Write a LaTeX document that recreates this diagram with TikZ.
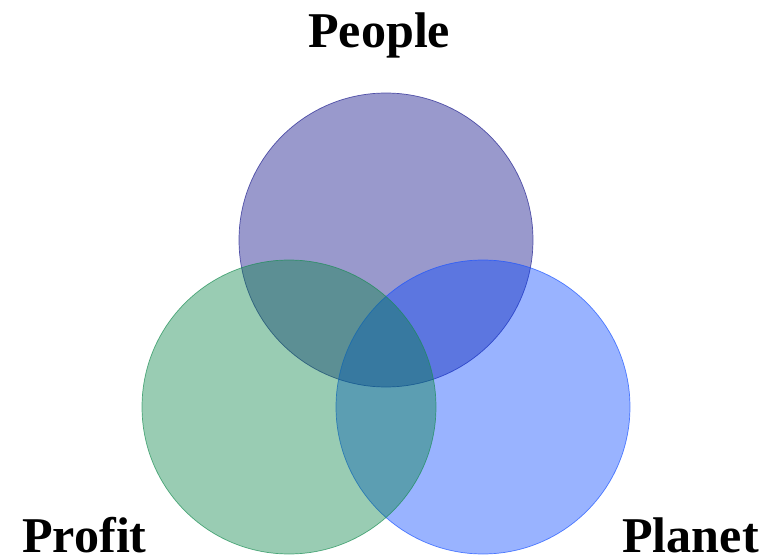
\documentclass[tikz,border=0pt]{standalone}
\usepackage{fontspec}
\setmainfont{Liberation Serif}
\usetikzlibrary{calc}

\definecolor{peoplecol}{RGB}{0,0,128}
\definecolor{profitcol}{RGB}{0,128,64}
\definecolor{planetcol}{RGB}{0,64,255}

\begin{document}
\begin{tikzpicture}
    \path[use as bounding box] (0,0) rectangle (15.4,11.1);
    \tikzset{label/.style={anchor=base west,inner sep=0pt,font=\fontsize{28.5}{34}\selectfont\bfseries}}
    % Circles.
    \filldraw[fill=peoplecol,fill opacity=0.4,draw=peoplecol!80,draw opacity=0.8] (7.72,6.3) circle(2.94);
    \filldraw[fill=planetcol,fill opacity=0.4,draw=planetcol!90,draw opacity=0.7] (9.66,2.96) circle(2.94);
    \filldraw[fill=profitcol,fill opacity=0.4,draw=profitcol!90,draw opacity=0.7] (5.78,2.96) circle(2.94);
    % Labels.
    \node[label] (people) at (6.16,10.16) {People};
    \node[label] (profit) at (0.44,0.06) {Profit};
    \node[label] (planet) at (12.44,0.06) {Planet};
  \end{tikzpicture}
\end{document}
